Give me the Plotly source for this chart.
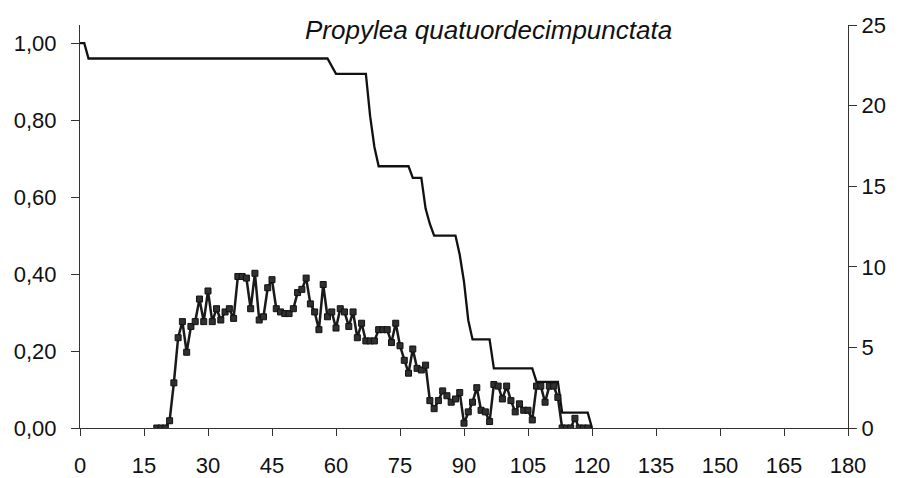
import plotly.graph_objects as go

# Survival (left axis, proportion) breakpoints: day, value
surv_days = [0, 1, 2, 58, 60, 67, 68, 69, 70, 77, 78, 80, 81, 82, 83, 88, 89, 90, 91, 92,
             96, 97, 106, 107, 112, 113, 119, 120]
surv_vals = [1.00, 1.00, 0.96, 0.96, 0.92, 0.92, 0.81, 0.73, 0.68, 0.68, 0.65, 0.65, 0.57,
             0.53, 0.50, 0.50, 0.45, 0.38, 0.28, 0.23, 0.23, 0.155, 0.155, 0.12, 0.12, 0.04,
             0.04, 0.00]

# Daily fecundity (right axis)
fec_days = list(range(18, 120))
fec_vals = [0, 0, 0, 0.45, 2.8, 5.6, 6.6, 4.7, 6.3, 6.6, 8.0, 6.6, 8.5, 6.6, 7.4, 6.7,
            7.2, 7.4, 6.8, 9.4, 9.4, 9.3, 7.4, 9.6, 6.7, 6.9, 8.7, 9.2, 7.4, 7.2, 7.1, 7.1,
            7.4, 8.4, 8.6, 9.3, 7.7, 7.2, 6.1, 8.9, 6.9, 7.2, 6.2, 7.4, 7.2, 6.3, 7.2, 5.6,
            6.5, 5.4, 5.4, 5.4, 6.1, 6.1, 6.1, 5.3, 6.5, 5.1, 4.2, 3.4, 4.9, 3.7, 3.6, 3.9,
            1.7, 1.2, 1.7, 2.3, 2.0, 1.6, 1.8, 2.2, 0.3, 1.0, 1.6, 2.5, 1.1, 1.0, 0.4, 2.7,
            2.6, 1.8, 2.6, 1.7, 1.0, 1.5, 1.1, 1.1, 0.5, 2.6, 2.6, 1.6, 2.6, 2.6, 1.9, 0,
            0, 0, 0.6, 0, 0, 0]

x_ticks = list(range(0, 181, 15))
left_ticks = [0, 0.2, 0.4, 0.6, 0.8, 1.0]
left_labels = ["0,00", "0,20", "0,40", "0,60", "0,80", "1,00"]
right_ticks = [0, 5, 10, 15, 20, 25]

title_text = "Propylea quatuordecimpunctata"

FONT = "Liberation Sans, Arial, sans-serif"

fig = go.Figure()
fig.add_trace(go.Scatter(
    x=surv_days, y=surv_vals, mode="lines",
    line=dict(color="#111111", width=2.3), yaxis="y", showlegend=False))
fig.add_trace(go.Scatter(
    x=fec_days, y=fec_vals, mode="lines+markers",
    line=dict(color="#1a1a1a", width=2.5),
    marker=dict(symbol="square", size=6, color="#303030",
                line=dict(color="#111111", width=1)),
    yaxis="y2", showlegend=False))

fig.update_layout(
    width=903, height=478,
    margin=dict(l=80, r=55, t=25, b=50, autoexpand=False),
    paper_bgcolor="white", plot_bgcolor="white",
    font=dict(family=FONT, size=22, color="#111111"),
    xaxis=dict(range=[0, 180], tickvals=x_ticks, showgrid=False, zeroline=False,
               showline=True, linecolor="#333333", linewidth=1.2,
               ticks="outside", ticklen=7, tickcolor="#333333",
               ticklabelstandoff=10, automargin=False),
    yaxis=dict(range=[0, 1.047], tickvals=left_ticks, ticktext=left_labels,
               showgrid=False, zeroline=False, showline=True, linecolor="#333333",
               linewidth=1.2, ticks="outside", ticklen=8, tickcolor="#333333",
               ticklabelstandoff=10, automargin=False),
    yaxis2=dict(range=[0, 25], tickvals=right_ticks, overlaying="y", side="right",
                showgrid=False, zeroline=False, showline=True, linecolor="#333333",
                linewidth=1.2, ticks="outside", ticklen=8, tickcolor="#333333",
                automargin=False),
    annotations=[dict(text="<i>" + title_text + "</i>", x=(488 - 80) / 768,
                      y=(478 - 30 - 50) / 403, xref="paper", yref="paper",
                      xanchor="center", yanchor="middle", showarrow=False,
                      font=dict(size=26))],
)
fig.write_html("out.html")
